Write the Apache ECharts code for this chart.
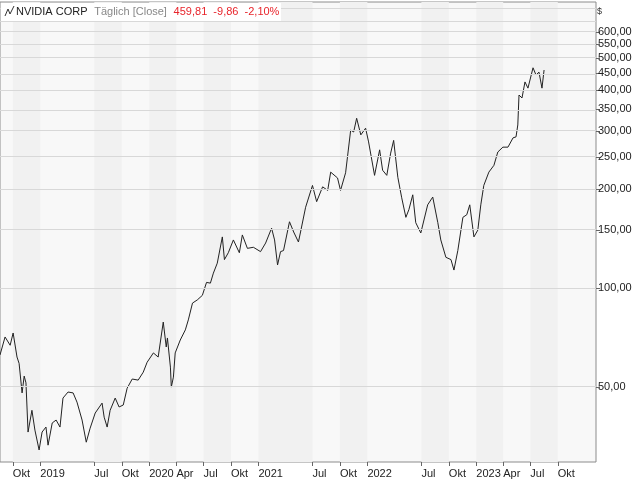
<!DOCTYPE html>
<html><head><meta charset="utf-8">
<script src="https://cdn.jsdelivr.net/npm/echarts@6/dist/echarts.min.js"></script>
<style>html,body{margin:0;padding:0;background:#fff}#c{width:640px;height:480px}</style>
</head><body><div id="c"></div>
<script>
const dates = ["2018-08-19","2018-09-05","2018-09-22","2018-10-02","2018-10-15","2018-10-22","2018-11-01","2018-11-08","2018-11-14","2018-11-21","2018-12-04","2018-12-14","2018-12-28","2019-01-07","2019-01-20","2019-01-27","2019-02-10","2019-02-23","2019-03-08","2019-03-18","2019-04-04","2019-04-21","2019-05-04","2019-05-21","2019-06-04","2019-06-17","2019-07-04","2019-07-27","2019-08-03","2019-08-13","2019-08-23","2019-09-09","2019-09-22","2019-10-06","2019-10-19","2019-11-05","2019-11-25","2019-12-12","2019-12-25","2020-01-15","2020-01-31","2020-02-17","2020-02-27","2020-03-02","2020-03-12","2020-03-15","2020-03-22","2020-03-28","2020-04-14","2020-05-01","2020-05-11","2020-05-25","2020-06-10","2020-06-27","2020-07-11","2020-07-24","2020-08-03","2020-08-16","2020-09-02","2020-09-09","2020-09-22","2020-10-09","2020-10-29","2020-11-08","2020-11-25","2020-12-15","2021-01-08","2021-01-25","2021-02-14","2021-02-24","2021-03-06","2021-03-16","2021-03-26","2021-04-15","2021-04-29","2021-05-15","2021-05-22","2021-06-08","2021-07-01","2021-07-15","2021-08-04","2021-08-21","2021-08-31","2021-09-23","2021-10-03","2021-10-20","2021-11-06","2021-11-16","2021-11-26","2021-12-10","2021-12-26","2022-01-05","2022-01-25","2022-02-11","2022-02-21","2022-03-07","2022-03-20","2022-03-30","2022-04-13","2022-04-26","2022-05-10","2022-05-20","2022-06-02","2022-06-12","2022-06-29","2022-07-22","2022-08-08","2022-08-25","2022-09-04","2022-09-21","2022-10-08","2022-10-18","2022-10-31","2022-11-17","2022-11-30","2022-12-10","2022-12-24","2023-01-06","2023-01-16","2023-01-26","2023-02-12","2023-03-01","2023-03-14","2023-03-31","2023-04-17","2023-05-04","2023-05-14","2023-05-20","2023-05-24","2023-06-03","2023-06-13","2023-06-23","2023-07-10","2023-07-20","2023-07-30","2023-08-09","2023-08-16"];
const closes = [62.6,71,67,73,61.7,59,48,54,51.5,36.5,42.5,37,32.2,36.5,37.8,33.3,38.9,39.7,37.8,46.3,48.3,48,45,39.7,34,37.5,41.7,44.7,40.5,37.8,42.5,46.3,43.5,44.1,49.6,52.9,52.5,55.5,59.5,63.5,61.7,78.8,66.2,70.5,57.5,50,53.6,63.5,69.5,74.6,80,90,92,95,104,103.5,111,119,143,122,128,140,128,145,132,133,129,137,152,140,117.5,129,130,159,148,138,148,176,205,183,203,198,225,216,198,224,302,298,328,292,306,278,220,263,228,220,257,281,217,188,164,173,192,158,147,179,189,158,140,124,122,113.4,130,164,167,179,143,150,179,205,225,236,259,268,268,286,288,313,386,378,423,405,467,444,453,405,459.81];
const tickDates = ["2018-10-01","2019-01-01","2019-07-01","2019-10-01","2020-01-01","2020-04-01","2020-07-01","2020-10-01","2021-01-01","2021-07-01","2021-10-01","2022-01-01","2022-07-01","2022-10-01","2023-01-01","2023-04-01","2023-07-01","2023-10-01"];
const monthNames = ["Jan","Feb","Mär","Apr","Mai","Jun","Jul","Aug","Sep","Okt","Nov","Dez"];
const yLabels = [50,100,150,200,250,300,350,400,450,500,550,600];
const yGridExtra = [650,700];

const ts = d => new Date(d + "T00:00:00Z").getTime();
const lg = v => Math.log10(v);
const data = dates.map((d,i)=>[ts(d), lg(closes[i])]);
const bands = [];
for (let i=0;i<tickDates.length-1;i+=2) bands.push([{xAxis: ts(tickDates[i])},{xAxis: ts(tickDates[i+1])}]);
const gridLines = yLabels.concat(yGridExtra).map(v=>({yAxis: lg(v)}));
const F = 'Liberation Sans';

const chart = echarts.init(document.getElementById('c'));
chart.setOption({
  animation:false,
  textStyle:{fontFamily:F},
  grid:{left:0,right:44,top:2,bottom:18,show:true,borderColor:'#8c8c8c',borderWidth:1,backgroundColor:'#f8f8f8'},
  xAxis:{type:'value',min:ts("2018-08-19"),max:ts("2024-02-06"),
    axisLine:{show:false},splitLine:{show:false},
    axisTick:{show:true,customValues:tickDates.map(ts),length:4,lineStyle:{color:'#666'}},
    axisLabel:{customValues:tickDates.map(ts),align:'left',margin:6,fontSize:11,color:'#222',fontFamily:F,
      formatter:v=>{const d=new Date(v);const m=d.getUTCMonth();return m===0?String(d.getUTCFullYear()):monthNames[m];}}},
  yAxis:{type:'value',position:'right',min:lg(29.6),max:lg(740),
    axisLine:{show:false},splitLine:{show:false},
    axisTick:{show:true,customValues:yLabels.map(lg),length:4,lineStyle:{color:'#666'}},
    axisLabel:{customValues:yLabels.map(lg),margin:2,fontSize:11,color:'#222',fontFamily:F,
      formatter:v=>Math.round(Math.pow(10,v)).toFixed(2).replace('.',',')}},
  graphic:[
    {type:'rect',shape:{x:1,y:3,width:280,height:18},style:{fill:'#fff'},z:100},
    {type:'polyline',shape:{points:[[5,16],[8,9],[10,14],[14,6]]},style:{stroke:'#333',lineWidth:1,fill:null},z:101},
    {type:'text',x:16,y:6,style:{rich:{a:{fill:'#222',fontSize:11,fontFamily:F},b:{fill:'#888',fontSize:11,fontFamily:F},c:{fill:'#e8242b',fontSize:11,fontFamily:F}},
      text:'{a|NVIDIA CORP}  {b|Täglich [Close]}  {c|459,81  -9,86  -2,10%}'},z:101},
    {type:'text',x:597,y:7,style:{text:'$',fill:'#333',fontSize:9,fontFamily:F},z:101}
  ],
  series:[{type:'line',data:data,showSymbol:false,lineStyle:{color:'#222',width:1},
    markArea:{silent:true,itemStyle:{color:'#f1f1f1'},data:bands},
    markLine:{silent:true,symbol:'none',label:{show:false},lineStyle:{color:'#d8d8d8',type:'solid',width:1},data:gridLines}
  }]
});
</script></body></html>
